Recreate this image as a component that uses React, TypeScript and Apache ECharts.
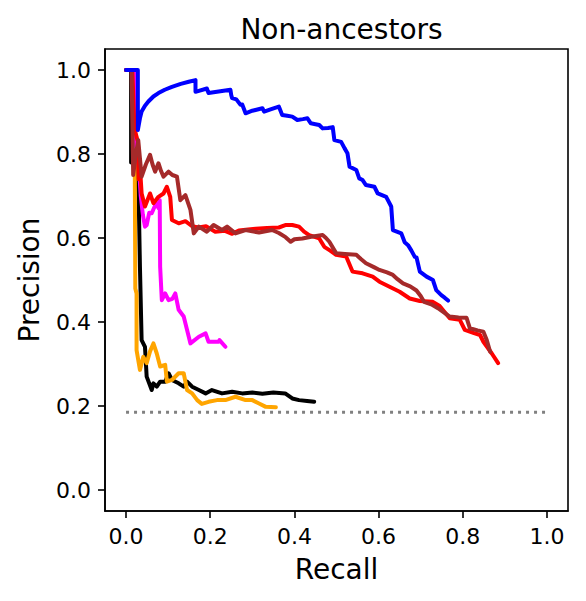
import React, { useEffect, useRef } from "react";
import * as echarts from "echarts";

const titleText = "Non-ancestors";
const xName = "Recall";
const yName = "Precision";
const xTicks = [0, 0.2, 0.4, 0.6, 0.8, 1.0];
const yTicks = [0, 0.2, 0.4, 0.6, 0.8, 1.0];

const baselinePoints = [[0, 0.185], [1, 0.185]];

const blackPoints = [
  [0, 1.0], [0.012, 1.0], [0.012, 0.78], [0.02, 0.8], [0.025, 0.78], [0.03, 0.7], [0.033, 0.532],
  [0.037, 0.357], [0.045, 0.341], [0.049, 0.27], [0.061, 0.238], [0.065, 0.254], [0.073, 0.246],
  [0.081, 0.258], [0.093, 0.258], [0.101, 0.278], [0.109, 0.262], [0.125, 0.254], [0.137, 0.246],
  [0.145, 0.258], [0.157, 0.246], [0.173, 0.238], [0.189, 0.23], [0.204, 0.238], [0.228, 0.23],
  [0.252, 0.234], [0.276, 0.23], [0.3, 0.232], [0.324, 0.229], [0.35, 0.232], [0.378, 0.23],
  [0.395, 0.218], [0.411, 0.214], [0.43, 0.212], [0.447, 0.21],
];

const orangePoints = [
  [0, 1.0], [0.018, 1.0], [0.02, 0.95], [0.022, 0.48], [0.025, 0.468], [0.025, 0.333], [0.033, 0.286],
  [0.041, 0.317], [0.049, 0.302], [0.057, 0.33], [0.065, 0.349], [0.073, 0.325], [0.081, 0.294],
  [0.093, 0.298], [0.097, 0.258], [0.109, 0.262], [0.125, 0.278], [0.137, 0.278], [0.145, 0.238],
  [0.157, 0.23], [0.169, 0.214], [0.18, 0.205], [0.196, 0.21], [0.216, 0.214], [0.236, 0.214],
  [0.26, 0.222], [0.284, 0.214], [0.3, 0.214], [0.316, 0.206], [0.332, 0.198], [0.356, 0.197],
];

const magentaPoints = [
  [0, 1.0], [0.02, 1.0], [0.022, 0.8], [0.03, 0.78], [0.035, 0.7], [0.04, 0.655], [0.045, 0.627],
  [0.049, 0.631], [0.055, 0.66], [0.061, 0.659], [0.068, 0.675], [0.073, 0.683], [0.077, 0.671],
  [0.08, 0.69], [0.081, 0.532], [0.085, 0.452], [0.093, 0.468], [0.101, 0.452], [0.11, 0.455],
  [0.117, 0.468], [0.125, 0.429], [0.137, 0.413], [0.145, 0.381], [0.153, 0.349], [0.173, 0.365],
  [0.189, 0.373], [0.196, 0.353], [0.22, 0.353], [0.222, 0.357], [0.236, 0.341],
];

const redPoints = [
  [0, 1.0], [0.015, 1.0], [0.02, 0.86], [0.028, 0.83], [0.03, 0.74], [0.033, 0.77], [0.037, 0.706],
  [0.045, 0.675], [0.057, 0.706], [0.065, 0.683], [0.077, 0.698], [0.089, 0.706], [0.097, 0.722],
  [0.105, 0.698], [0.109, 0.643], [0.125, 0.635], [0.141, 0.64], [0.157, 0.628], [0.172, 0.625],
  [0.19, 0.628], [0.212, 0.615], [0.235, 0.617], [0.252, 0.61], [0.268, 0.618], [0.29, 0.62],
  [0.308, 0.622], [0.335, 0.624], [0.363, 0.625], [0.38, 0.631], [0.395, 0.631], [0.411, 0.627],
  [0.423, 0.615], [0.435, 0.607], [0.459, 0.599], [0.471, 0.579], [0.485, 0.57], [0.499, 0.56],
  [0.523, 0.556], [0.538, 0.52], [0.562, 0.516], [0.586, 0.508], [0.602, 0.496], [0.626, 0.484],
  [0.65, 0.472], [0.674, 0.456], [0.698, 0.45], [0.729, 0.448], [0.745, 0.438], [0.769, 0.409],
  [0.793, 0.405], [0.805, 0.381], [0.825, 0.374], [0.841, 0.369], [0.849, 0.353], [0.869, 0.325],
  [0.884, 0.302],
];

const brownPoints = [
  [0, 1.0], [0.013, 1.0], [0.017, 0.75], [0.022, 0.79], [0.029, 0.833], [0.033, 0.79], [0.037, 0.746],
  [0.047, 0.775], [0.057, 0.798], [0.063, 0.775], [0.069, 0.758], [0.077, 0.778], [0.083, 0.76],
  [0.089, 0.746], [0.101, 0.758], [0.11, 0.75], [0.121, 0.746], [0.129, 0.69], [0.141, 0.702],
  [0.153, 0.667], [0.161, 0.611], [0.173, 0.627], [0.192, 0.615], [0.208, 0.631], [0.228, 0.619],
  [0.24, 0.627], [0.26, 0.611], [0.284, 0.619], [0.316, 0.613], [0.347, 0.619], [0.363, 0.612],
  [0.379, 0.602], [0.391, 0.591], [0.4, 0.597], [0.419, 0.599], [0.44, 0.603], [0.467, 0.607],
  [0.475, 0.6], [0.483, 0.591], [0.499, 0.564], [0.52, 0.562], [0.547, 0.56], [0.558, 0.55],
  [0.57, 0.54], [0.59, 0.53], [0.602, 0.524], [0.62, 0.518], [0.634, 0.512], [0.645, 0.502],
  [0.658, 0.492], [0.675, 0.485], [0.69, 0.475], [0.7, 0.462], [0.708, 0.448], [0.725, 0.442],
  [0.741, 0.433], [0.755, 0.423], [0.769, 0.413], [0.79, 0.411], [0.809, 0.41], [0.817, 0.385],
  [0.835, 0.38], [0.849, 0.377], [0.857, 0.357], [0.865, 0.329],
];

const bluePoints = [
  [0, 1.0], [0.028, 1.0], [0.028, 0.857], [0.033, 0.885], [0.037, 0.901], [0.045, 0.915],
  [0.053, 0.925], [0.065, 0.937], [0.077, 0.945], [0.092, 0.953], [0.109, 0.96], [0.13, 0.967],
  [0.149, 0.972], [0.165, 0.976], [0.165, 0.948], [0.192, 0.956], [0.196, 0.945], [0.248, 0.953],
  [0.25, 0.94], [0.252, 0.933], [0.262, 0.93], [0.272, 0.917], [0.276, 0.918], [0.284, 0.897],
  [0.3, 0.903], [0.324, 0.909], [0.328, 0.901], [0.345, 0.907], [0.363, 0.913], [0.371, 0.893],
  [0.383, 0.891], [0.395, 0.889], [0.407, 0.881], [0.42, 0.883], [0.431, 0.885], [0.439, 0.873],
  [0.45, 0.871], [0.459, 0.869], [0.467, 0.861], [0.48, 0.862], [0.491, 0.864], [0.495, 0.833],
  [0.511, 0.829], [0.519, 0.814], [0.526, 0.802], [0.531, 0.77], [0.547, 0.762], [0.554, 0.742],
  [0.562, 0.738], [0.57, 0.726], [0.59, 0.722], [0.598, 0.706], [0.618, 0.698], [0.63, 0.675],
  [0.634, 0.619], [0.654, 0.611], [0.662, 0.59], [0.67, 0.583], [0.678, 0.57], [0.686, 0.555],
  [0.69, 0.554], [0.698, 0.52], [0.714, 0.508], [0.729, 0.5], [0.737, 0.476], [0.749, 0.464],
  [0.757, 0.458], [0.765, 0.451],
];

const curveNames = ["black", "orange", "magenta", "red", "brown", "blue"];
const curveColors = ["#000000", "#ffa500", "#ff00ff", "#ff0000", "#a52a2a", "#0000ff"];
const curveData = [blackPoints, orangePoints, magentaPoints, redPoints, brownPoints, bluePoints];

const FONT = "DejaVu Sans";

export default function App() {
  const ref = useRef<HTMLDivElement>(null);
  useEffect(() => {
    if (!ref.current) return;
    const chart = echarts.init(ref.current, null, { renderer: "svg" });
    const axisCommon = {
      type: "value" as const,
      min: -0.05,
      max: 1.05,
      nameLocation: "middle" as const,
      nameTextStyle: { fontSize: 28, color: "#000", fontFamily: FONT },
      axisLine: { show: true, onZero: false, lineStyle: { color: "#000", width: 1.6 } },
      splitLine: { show: false },
    };
    const labelStyle = {
      formatter: (v: number) => v.toFixed(1),
      fontSize: 22,
      color: "#000",
      fontFamily: FONT,
      margin: 14,
    };
    chart.setOption({
      animation: false,
      backgroundColor: "#fff",
      title: {
        text: titleText,
        left: 336.5,
        textAlign: "center",
        top: 10,
        textStyle: { fontSize: 28, fontWeight: "normal", color: "#000", fontFamily: FONT },
      },
      grid: {
        left: 105,
        right: 18,
        top: 49,
        bottom: 90,
        show: true,
        borderColor: "#000",
        borderWidth: 1.6,
        backgroundColor: "transparent",
      },
      xAxis: {
        ...axisCommon,
        name: xName,
        nameGap: 44,
        axisTick: { show: true, length: 7, customValues: xTicks, lineStyle: { color: "#000", width: 1.6 } },
        axisLabel: { ...labelStyle, customValues: xTicks },
      },
      yAxis: {
        ...axisCommon,
        name: yName,
        nameGap: 62,
        axisTick: { show: true, length: 7, customValues: yTicks, lineStyle: { color: "#000", width: 1.6 } },
        axisLabel: { ...labelStyle, customValues: yTicks },
      },
      series: [
        {
          type: "line",
          name: "baseline",
          data: baselinePoints,
          showSymbol: false,
          symbol: "none",
          lineStyle: { color: "#808080", width: 3, type: [3, 5], cap: "butt" },
          z: 1,
        },
        ...curveData.map((pts, i) => ({
          type: "line",
          name: curveNames[i],
          data: pts,
          showSymbol: false,
          symbol: "none",
          lineStyle: { color: curveColors[i], width: 4, join: "round", cap: "round" },
          z: 2 + i,
        })),
      ],
    });
    return () => chart.dispose();
  }, []);
  return (
    <div
      ref={ref}
      style={{ position: "fixed", left: 0, top: 0, width: 586, height: 601, background: "#fff" }}
    />
  );
}
